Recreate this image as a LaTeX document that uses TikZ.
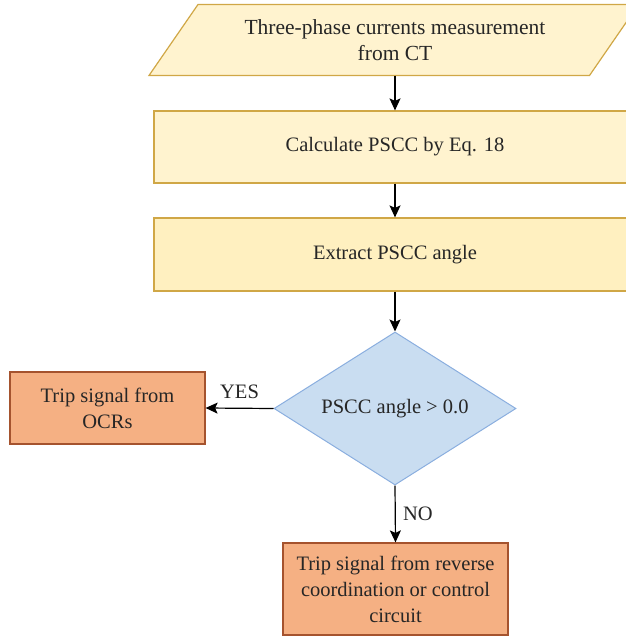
\documentclass[tikz,border=0pt]{standalone}
\usepackage{fontspec}
\setmainfont{Liberation Serif}
\usetikzlibrary{shapes.geometric,arrows.meta}
\definecolor{yfill}{HTML}{FFF3CF}
\definecolor{yfilltwo}{HTML}{FFF0C0}
\definecolor{ydraw}{HTML}{D0A746}
\definecolor{bfill}{HTML}{C9DDF1}
\definecolor{bdraw}{HTML}{8AAEDF}
\definecolor{ofill}{HTML}{F5B083}
\definecolor{odraw}{HTML}{A5532E}
\begin{document}
\begin{tikzpicture}[x=1pt,y=-1pt,
  txt/.style={align=center,font=\fontsize{20.5}{26}\selectfont,text=black!85},
  ybox/.style={txt,rectangle,draw=ydraw,line width=1.2pt,fill=yfill},
  obox/.style={txt,rectangle,draw=odraw,line width=1.2pt,fill=ofill},
  conn/.style={line width=1.2pt,-{Stealth[length=12pt,width=11pt,inset=2.5pt]}}]
\useasboundingbox (0,0) rectangle (626,637);
\clip (0,0) rectangle (626,637);
\fill[yfill,draw=ydraw,line width=1.2pt] (149,75.5) -- (589.5,75.5) -- (638.5,4.5) -- (198,4.5) -- cycle;
\node[txt,font=\fontsize{21.5}{26}\selectfont,minimum height=71pt,minimum width=300pt,inner sep=0pt] (in) at (395,40) {Three-phase currents measurement\\from CT};
\node[ybox,minimum width=482pt,minimum height=72pt,inner sep=0pt] (calc) at (395,147) {Calculate PSCC by Eq. 18};
\node[ybox,fill=yfilltwo,minimum width=482pt,minimum height=73pt,inner sep=0pt] (ext) at (395,254.5) {Extract PSCC angle};
\node[txt,diamond,draw=bdraw,fill=bfill,line width=1pt,aspect=1.58,minimum width=242pt,minimum height=153pt,inner sep=0pt] (dec) at (395,408.5) {PSCC angle > 0.0};
\node[obox,minimum width=195pt,minimum height=72pt,inner sep=0pt] (ocr) at (107.5,408) {Trip signal from\\OCRs};
\node[obox,minimum width=225pt,minimum height=92pt,inner sep=0pt] (rev) at (395.5,589) {Trip signal from reverse\\coordination or control\\circuit};
\draw[conn] (in.south) -- (calc.north);
\draw[conn] (calc.south) -- (ext.north);
\draw[conn] (ext.south) -- (dec.north);
\draw[conn] (dec.west) -- node[txt,above,yshift=6pt] {YES} (ocr.east);
\draw[conn] (dec.south) -- node[txt,right,xshift=4pt] {NO} (rev.north);
\end{tikzpicture}
\end{document}
